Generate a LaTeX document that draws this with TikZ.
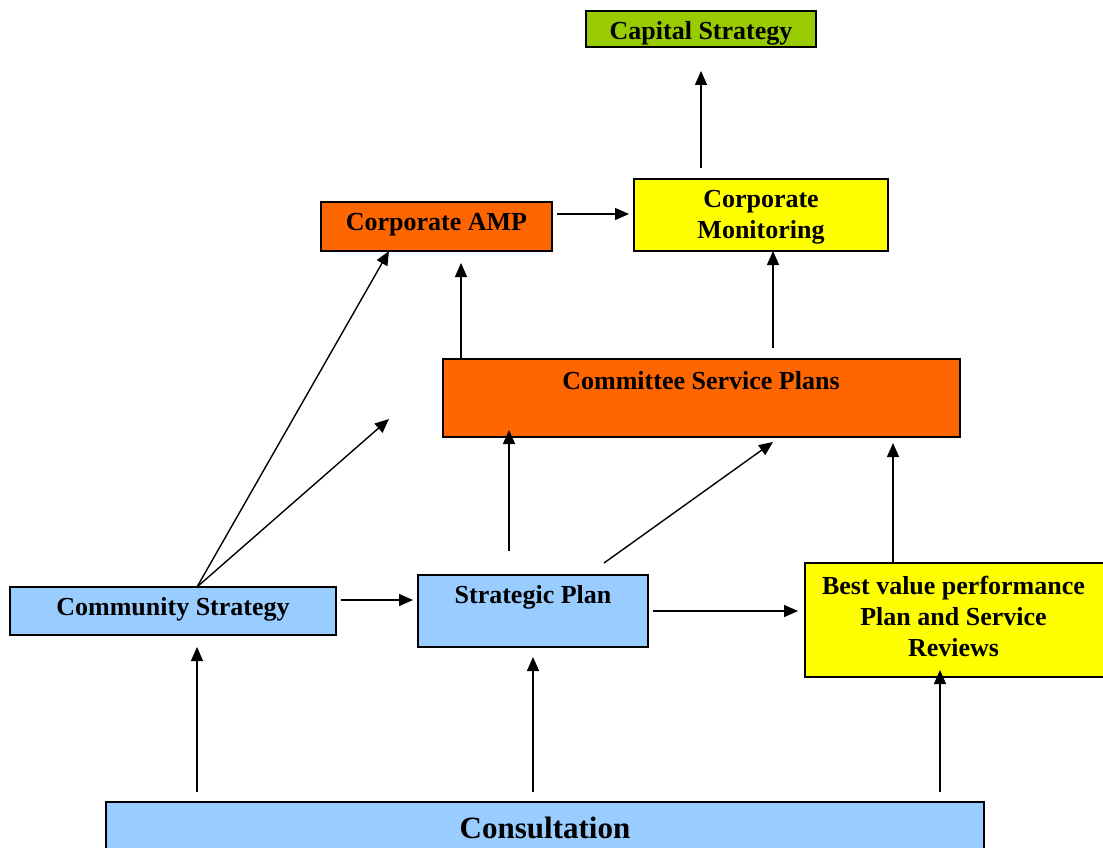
\documentclass[tikz,border=0pt]{standalone}
\usepackage{fontspec}
\setmainfont{Liberation Serif}
\usetikzlibrary{arrows.meta,calc}
\definecolor{capgreen}{HTML}{99CC00}
\definecolor{orng}{HTML}{FF6600}
\definecolor{yel}{HTML}{FFFF00}
\definecolor{lblue}{HTML}{99CCFF}
\begin{document}
\begin{tikzpicture}[x=1pt,y=-1pt,
  box/.style={draw=black,line width=1.8pt,rectangle,inner sep=0pt,outer sep=0pt},
  lbl/.style={font=\fontsize{26}{31}\selectfont\bfseries,align=center,inner sep=0pt},
  biglbl/.style={font=\fontsize{31}{36}\selectfont\bfseries,align=center,inner sep=0pt},
  arr/.style={line width=1.4pt,-{Triangle[length=14pt,width=12pt]}}]
\useasboundingbox[fill=white] (0,0) rectangle (1103,848);
% boxes
\node[box,fill=capgreen,minimum width=230pt,minimum height=36pt] (cap) at (701,29) {};
\node[box,fill=orng,minimum width=231pt,minimum height=49pt] (amp) at (436.5,226.5) {};
\node[box,fill=yel,minimum width=254pt,minimum height=72pt] (cm) at (761,215) {};
\node[box,fill=orng,minimum width=517pt,minimum height=78pt] (csp) at (701.5,398) {};
\node[box,fill=lblue,minimum width=326pt,minimum height=48pt] (cs) at (173,611) {};
\node[box,fill=lblue,minimum width=230pt,minimum height=72pt] (sp) at (533,611) {};
\node[box,fill=yel,minimum width=300pt,minimum height=114pt] (bv) at (955,620) {};
\node[box,fill=lblue,minimum width=878pt,minimum height=70pt] (con) at (545,837) {};
% labels
\node[lbl] (capT) at (701,33) {Capital Strategy};
\node[lbl] (ampT) at (436.5,225) {Corporate AMP};
\node[lbl] (cmT) at (761,217) {Corporate\\Monitoring};
\node[lbl] (cspT) at (701,381) {Committee Service Plans};
\node[lbl] (csT) at (173,609) {Community Strategy};
\node[lbl] (spT) at (533,597) {Strategic Plan};
\node[lbl] (bvT) at (953.5,616) {Best value performance\\Plan and Service\\Reviews};
\node[biglbl] (conT) at (545,828) {Consultation};
% connector end points
\coordinate (capS) at (701,168);  \coordinate (capE) at (701,71);
\coordinate (ampR) at (557,214);  \coordinate (cmL) at (629,214);
\coordinate (csTop) at (197,587); \coordinate (ampB) at (389,251);
\coordinate (free) at (389,419);
\coordinate (cspA) at (461,358);  \coordinate (ampB2) at (461,263);
\coordinate (cspB) at (773,348);  \coordinate (cmB) at (773,251);
\coordinate (spA) at (509,551);   \coordinate (cspC) at (509,430);
\coordinate (spB) at (604,563);   \coordinate (cspD) at (773,442);
\coordinate (bvTop) at (893,563); \coordinate (cspE) at (893,443);
\coordinate (csR) at (341,600);   \coordinate (spL) at (413,600);
\coordinate (spR) at (653,611);   \coordinate (bvL) at (798,611);
\coordinate (con1) at (197,792);  \coordinate (csB) at (197,647);
\coordinate (con2) at (533,792);  \coordinate (spBt) at (533,657);
\coordinate (con3) at (940,792);  \coordinate (bvB) at (940,670);
% connectors
\draw[arr] (capS) -- (capE);
\draw[arr] (ampR) -- (cmL);
\draw[arr] (csTop) -- (ampB);
\draw[arr] (csTop) -- (free);
\draw[arr] (cspA) -- (ampB2);
\draw[arr] (cspB) -- (cmB);
\draw[arr] (spA) -- (cspC);
\draw[arr] (spB) -- (cspD);
\draw[arr] (bvTop) -- (cspE);
\draw[arr] (csR) -- (spL);
\draw[arr] (spR) -- (bvL);
\draw[arr] (con1) -- (csB);
\draw[arr] (con2) -- (spBt);
\draw[arr] (con3) -- (bvB);
\end{tikzpicture}
\end{document}
